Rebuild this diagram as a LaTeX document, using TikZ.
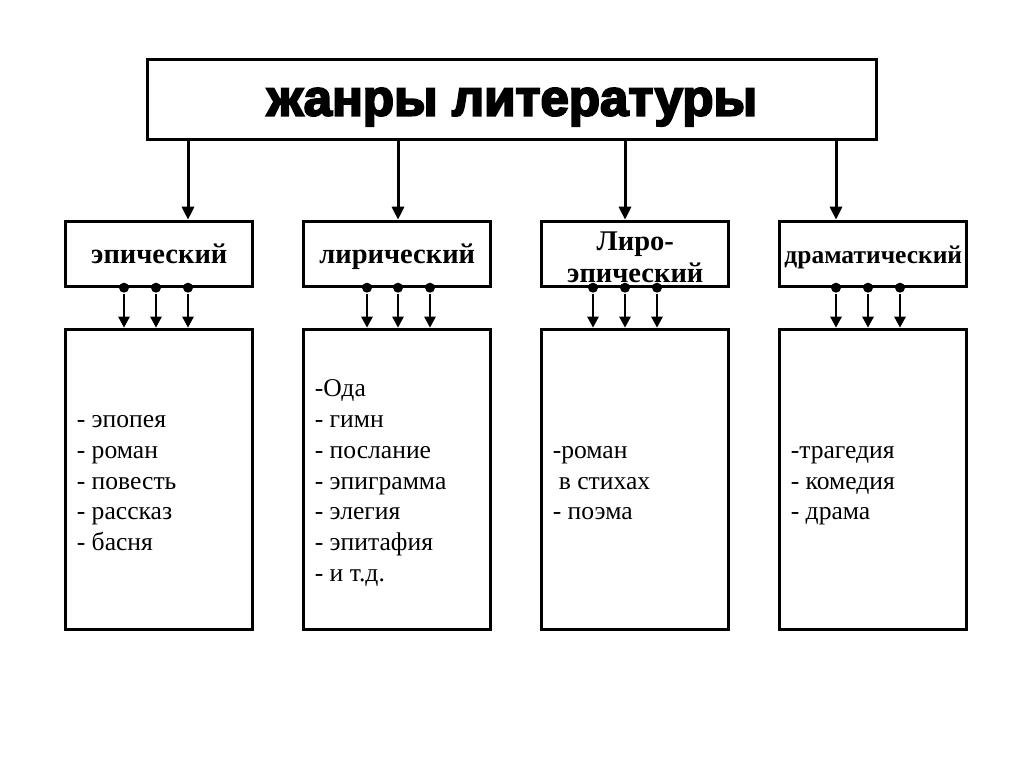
\documentclass[tikz,border=0pt]{standalone}
\usepackage{fontspec}
\setmainfont{Liberation Serif}
\newfontfamily\titlefont[FakeBold=4]{Liberation Sans}
\usetikzlibrary{shapes,arrows.meta,positioning,calc}

\begin{document}
\begin{tikzpicture}[x=1pt, y=-1pt, line width=3pt,
  genre/.style={draw, rectangle, minimum width=187pt, minimum height=65pt, inner sep=0pt, text height=19.5pt, text depth=0pt, align=center, font=\fontsize{28.5}{32}\selectfont\bfseries},
  list/.style={draw, rectangle, minimum width=187pt, minimum height=300pt, inner xsep=11pt, text width=165pt, align=flush left, font=\fontsize{25.6}{30.8}\selectfont, execute at begin node=\rule{0pt}{25.3pt}, execute at end node=\rule[-5.5pt]{0pt}{5.5pt}},
  dot/.style={circle, fill, inner sep=0pt, minimum size=10pt},
  bigarr/.style={-{Triangle[width=12pt,length=13pt]}, line width=3pt},
  smallarr/.style={-{Triangle[width=11pt,length=11pt]}, line width=2.6pt}]
\useasboundingbox (0,0) rectangle (1024,767);

% узлы
\node[draw, rectangle, minimum width=729pt, minimum height=80pt, text height=31pt, text depth=0pt, font=\titlefont\fontsize{51}{60}\selectfont\bfseries] (title) at (512,100) {жанры литературы};

\node[genre] (epic) at (159.3,253.7) {эпический};
\node[genre, right=48pt of epic] (lyric) {лирический};
\node[genre, right=48pt of lyric, text height=57pt] (lyroepic) {Лиро-\\эпический};
\node[genre, right=48pt of lyroepic, font=\fontsize{25.5}{30}\selectfont\bfseries] (drama) {драматический};

\node[list, below=40pt of epic] (epiclist) {- эпопея\\- роман\\- повесть\\- рассказ\\- басня};
\node[list, below=40pt of lyric] (lyriclist) {-Ода\\- гимн\\- послание\\- эпиграмма\\- элегия\\- эпитафия\\- и т.д.};
\node[list, below=40pt of lyroepic] (lyroepiclist) {-роман\\\hspace*{6pt}в стихах\\- поэма};
\node[list, below=40pt of drama] (dramalist) {-трагедия\\- комедия\\- драма};

% стрелки
\foreach \b/\x in {epic/188, lyric/398, lyroepic/625, drama/836}
  \draw[bigarr] (\x,0 |- title.south) -- (\x,0 |- \b.north);

\foreach \b/\xa/\xb/\xc in {epic/124/156/188, lyric/367/398/430, lyroepic/593/625/657, drama/836/868/900}
  \foreach \x [count=\i] in {\xa,\xb,\xc} {
    \node[dot] (\b dot\i) at (\x,0 |- \b.south) {};
    \draw[smallarr] (\b dot\i) -- (\b dot\i |- \b list.north);
  }
\end{tikzpicture}
\end{document}
